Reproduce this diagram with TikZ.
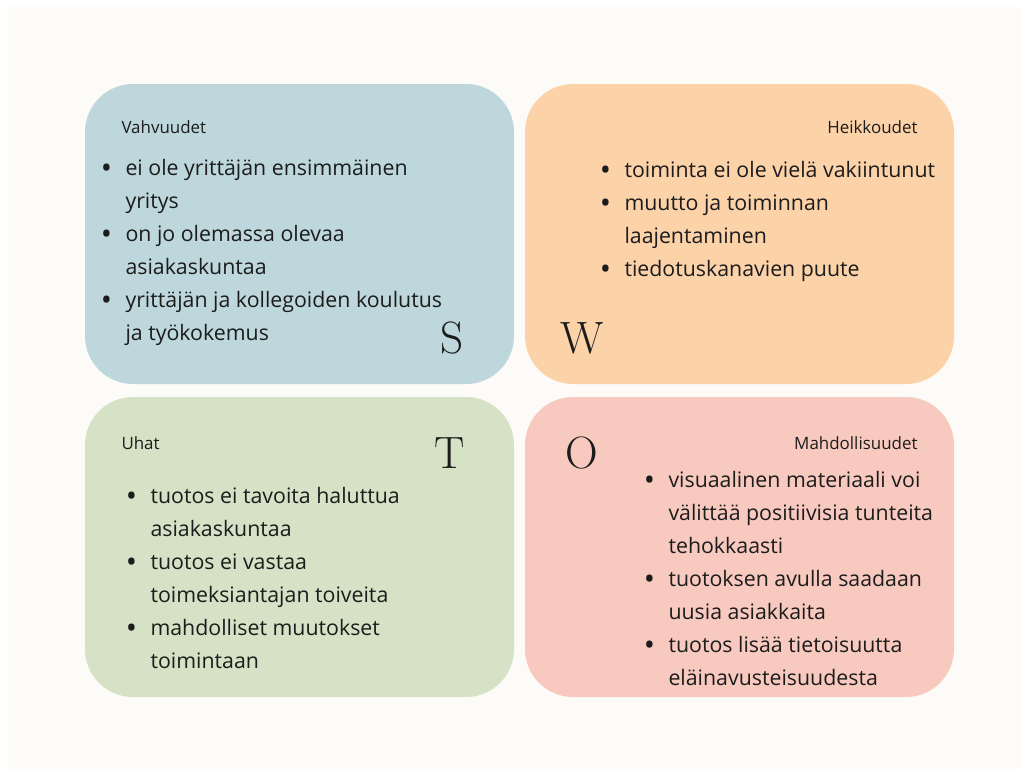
\documentclass[tikz,border=0pt]{standalone}
\usepackage{fontspec}
\usepackage{graphicx}
\setsansfont{Open Sans}

\definecolor{bgcream}{RGB}{252,251,247}
\definecolor{sblue}{RGB}{189,215,221}
\definecolor{wpeach}{RGB}{252,210,169}
\definecolor{tgreen}{RGB}{213,226,197}
\definecolor{opink}{RGB}{248,201,191}
\definecolor{ink}{RGB}{28,28,28}

\newcommand{\blt}{\llap{\makebox[28.5pt]{\raisebox{-0.17em}{\scalebox{1.4}{•}}}}}

\tikzset{every picture/.style={line width=0.75pt}}
\tikzset{
  head/.style={font=\sffamily\fontsize{12.7}{15}\selectfont, text=ink, inner sep=0pt},
  items/.style={font=\sffamily\fontsize{16}{24.75}\selectfont, align=left, text=ink, inner sep=0pt},
  letter/.style={font=\fontsize{34}{34}\selectfont, text=ink, inner sep=0pt}
}

\begin{document}
\begin{tikzpicture}[x=0.75pt,y=0.75pt,yscale=-1,xscale=1]
	\useasboundingbox (0,0) rectangle (1021,769);

	%Shape: Rectangle [background]
	\fill [white] (0,0) rectangle (1021,769);
	\draw [draw opacity=0][fill=bgcream] (8,7) rectangle (1021,769);

	%Shape: Rounded Rectangle [S]
	\draw [draw opacity=0][fill=sblue, rounded corners=36pt] (85,84) rectangle (514,384);
	%Shape: Rounded Rectangle [W]
	\draw [draw opacity=0][fill=wpeach, rounded corners=36pt] (525,84) rectangle (954,384);
	%Shape: Rounded Rectangle [T]
	\draw [draw opacity=0][fill=tgreen, rounded corners=36pt] (85,397) rectangle (514,697);
	%Shape: Rounded Rectangle [O]
	\draw [draw opacity=0][fill=opink, rounded corners=36pt] (525,397) rectangle (954,697);

	% Text Node (anchored at the baseline of the last line)
	\node [head, anchor=base west] (shead) at (121,133) {Vahvuudet};
	% Text Node
	\node [items, anchor=base west] (sitems) at (125,340) {\blt ei ole yrittäjän ensimmäinen\\ yritys\\ \blt on jo olemassa olevaa\\ asiakaskuntaa\\ \blt yrittäjän ja kollegoiden koulutus\\ ja työkokemus};
	% Text Node
	\node [letter, anchor=base] (sletter) at (452,353) {S};

	% Text Node
	\node [head, anchor=base east] (whead) at (918,133) {Heikkoudet};
	% Text Node
	\node [items, anchor=base west] (witems) at (624,276) {\blt toiminta ei ole vielä vakiintunut\\ \blt muutto ja toiminnan\\ laajentaminen\\ \blt tiedotuskanavien puute};
	% Text Node
	\node [letter, anchor=base] (wletter) at (582,353) {W};

	% Text Node
	\node [head, anchor=base west] (thead) at (121,449) {Uhat};
	% Text Node
	\node [items, anchor=base west] (titems) at (150,668) {\blt tuotos ei tavoita haluttua\\ asiakaskuntaa\\ \blt tuotos ei vastaa\\ toimeksiantajan toiveita\\ \blt mahdolliset muutokset\\ toimintaan};
	% Text Node
	\node [letter, anchor=base] (tletter) at (450,468) {T};

	% Text Node
	\node [head, anchor=base east] (ohead) at (918,449) {Mahdollisuudet};
	% Text Node
	\node [items, anchor=base west] (oitems) at (668,685) {\blt visuaalinen materiaali voi\\ välittää positiivisia tunteita\\ tehokkaasti\\ \blt tuotoksen avulla saadaan\\ uusia asiakkaita\\ \blt tuotos lisää tietoisuutta\\ eläinavusteisuudesta};
	% Text Node
	\node [letter, anchor=base] (oletter) at (582,468) {O};

\end{tikzpicture}
\end{document}
